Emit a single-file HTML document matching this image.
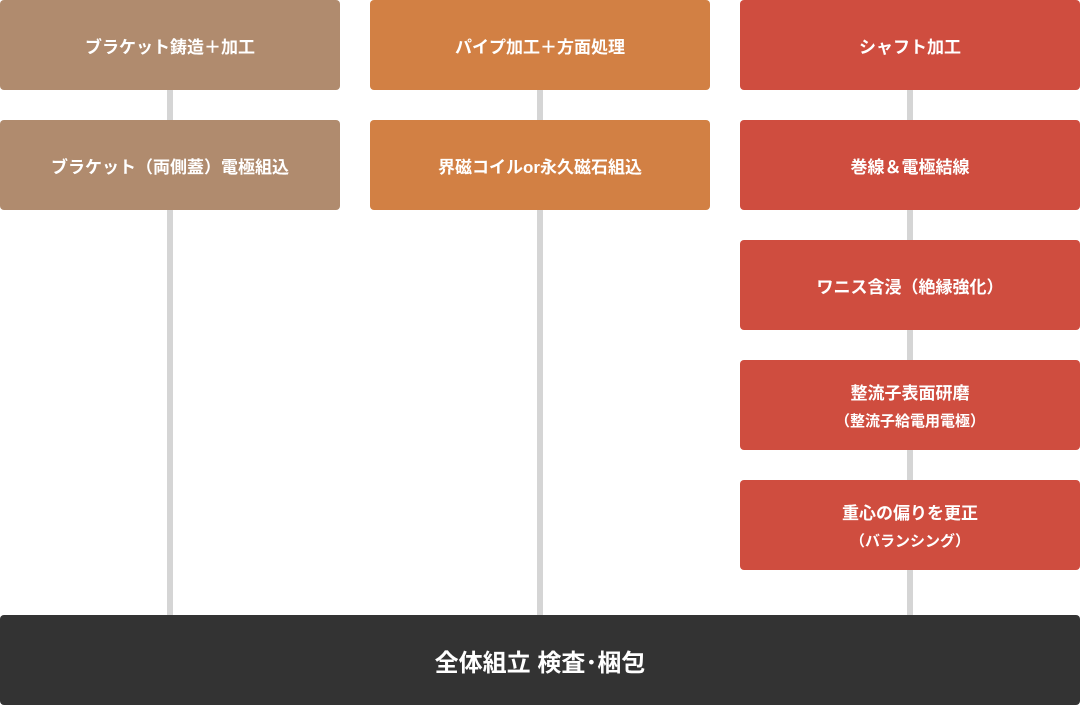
<!DOCTYPE html>
<html><head><meta charset="utf-8"><style>
body{margin:0;width:1080px;height:705px;background:#fff;position:relative;overflow:hidden;font-family:"Liberation Sans","Noto Sans CJK JP",sans-serif;font-weight:bold;color:#fff}
.l{position:absolute;width:6px;background:#d5d5d5}
.b{position:absolute;width:340px;height:90px;border-radius:4px;display:flex;flex-direction:column;align-items:center;justify-content:center;font-size:17px;text-align:center}
.b small{font-size:15px;margin-top:6px}
.c1{background:#b08b6e;left:0}.c2{background:#d28044;left:370px}.c3{background:#cf4d3f;left:740px}
</style></head><body>
<div class="l" style="left:167px;top:80px;height:540px"></div>
<div class="l" style="left:537px;top:80px;height:540px"></div>
<div class="l" style="left:907px;top:80px;height:540px"></div>
<div class="b c1" style="top:0">ブラケット鋳造＋加工</div>
<div class="b c1" style="top:120px">ブラケット（両側蓋）電極組込</div>
<div class="b c2" style="top:0">パイプ加工＋方面処理</div>
<div class="b c2" style="top:120px">界磁コイルor永久磁石組込</div>
<div class="b c3" style="top:0">シャフト加工</div>
<div class="b c3" style="top:120px">巻線＆電極結線</div>
<div class="b c3" style="top:240px">ワニス含浸（絶縁強化）</div>
<div class="b c3" style="top:360px">整流子表面研磨<small>（整流子給電用電極）</small></div>
<div class="b c3" style="top:480px">重心の偏りを更正<small>（バランシング）</small></div>
<div class="b" style="left:0;top:615px;width:1080px;background:#333;font-size:24px">全体組立 検査･梱包</div>
</body></html>
